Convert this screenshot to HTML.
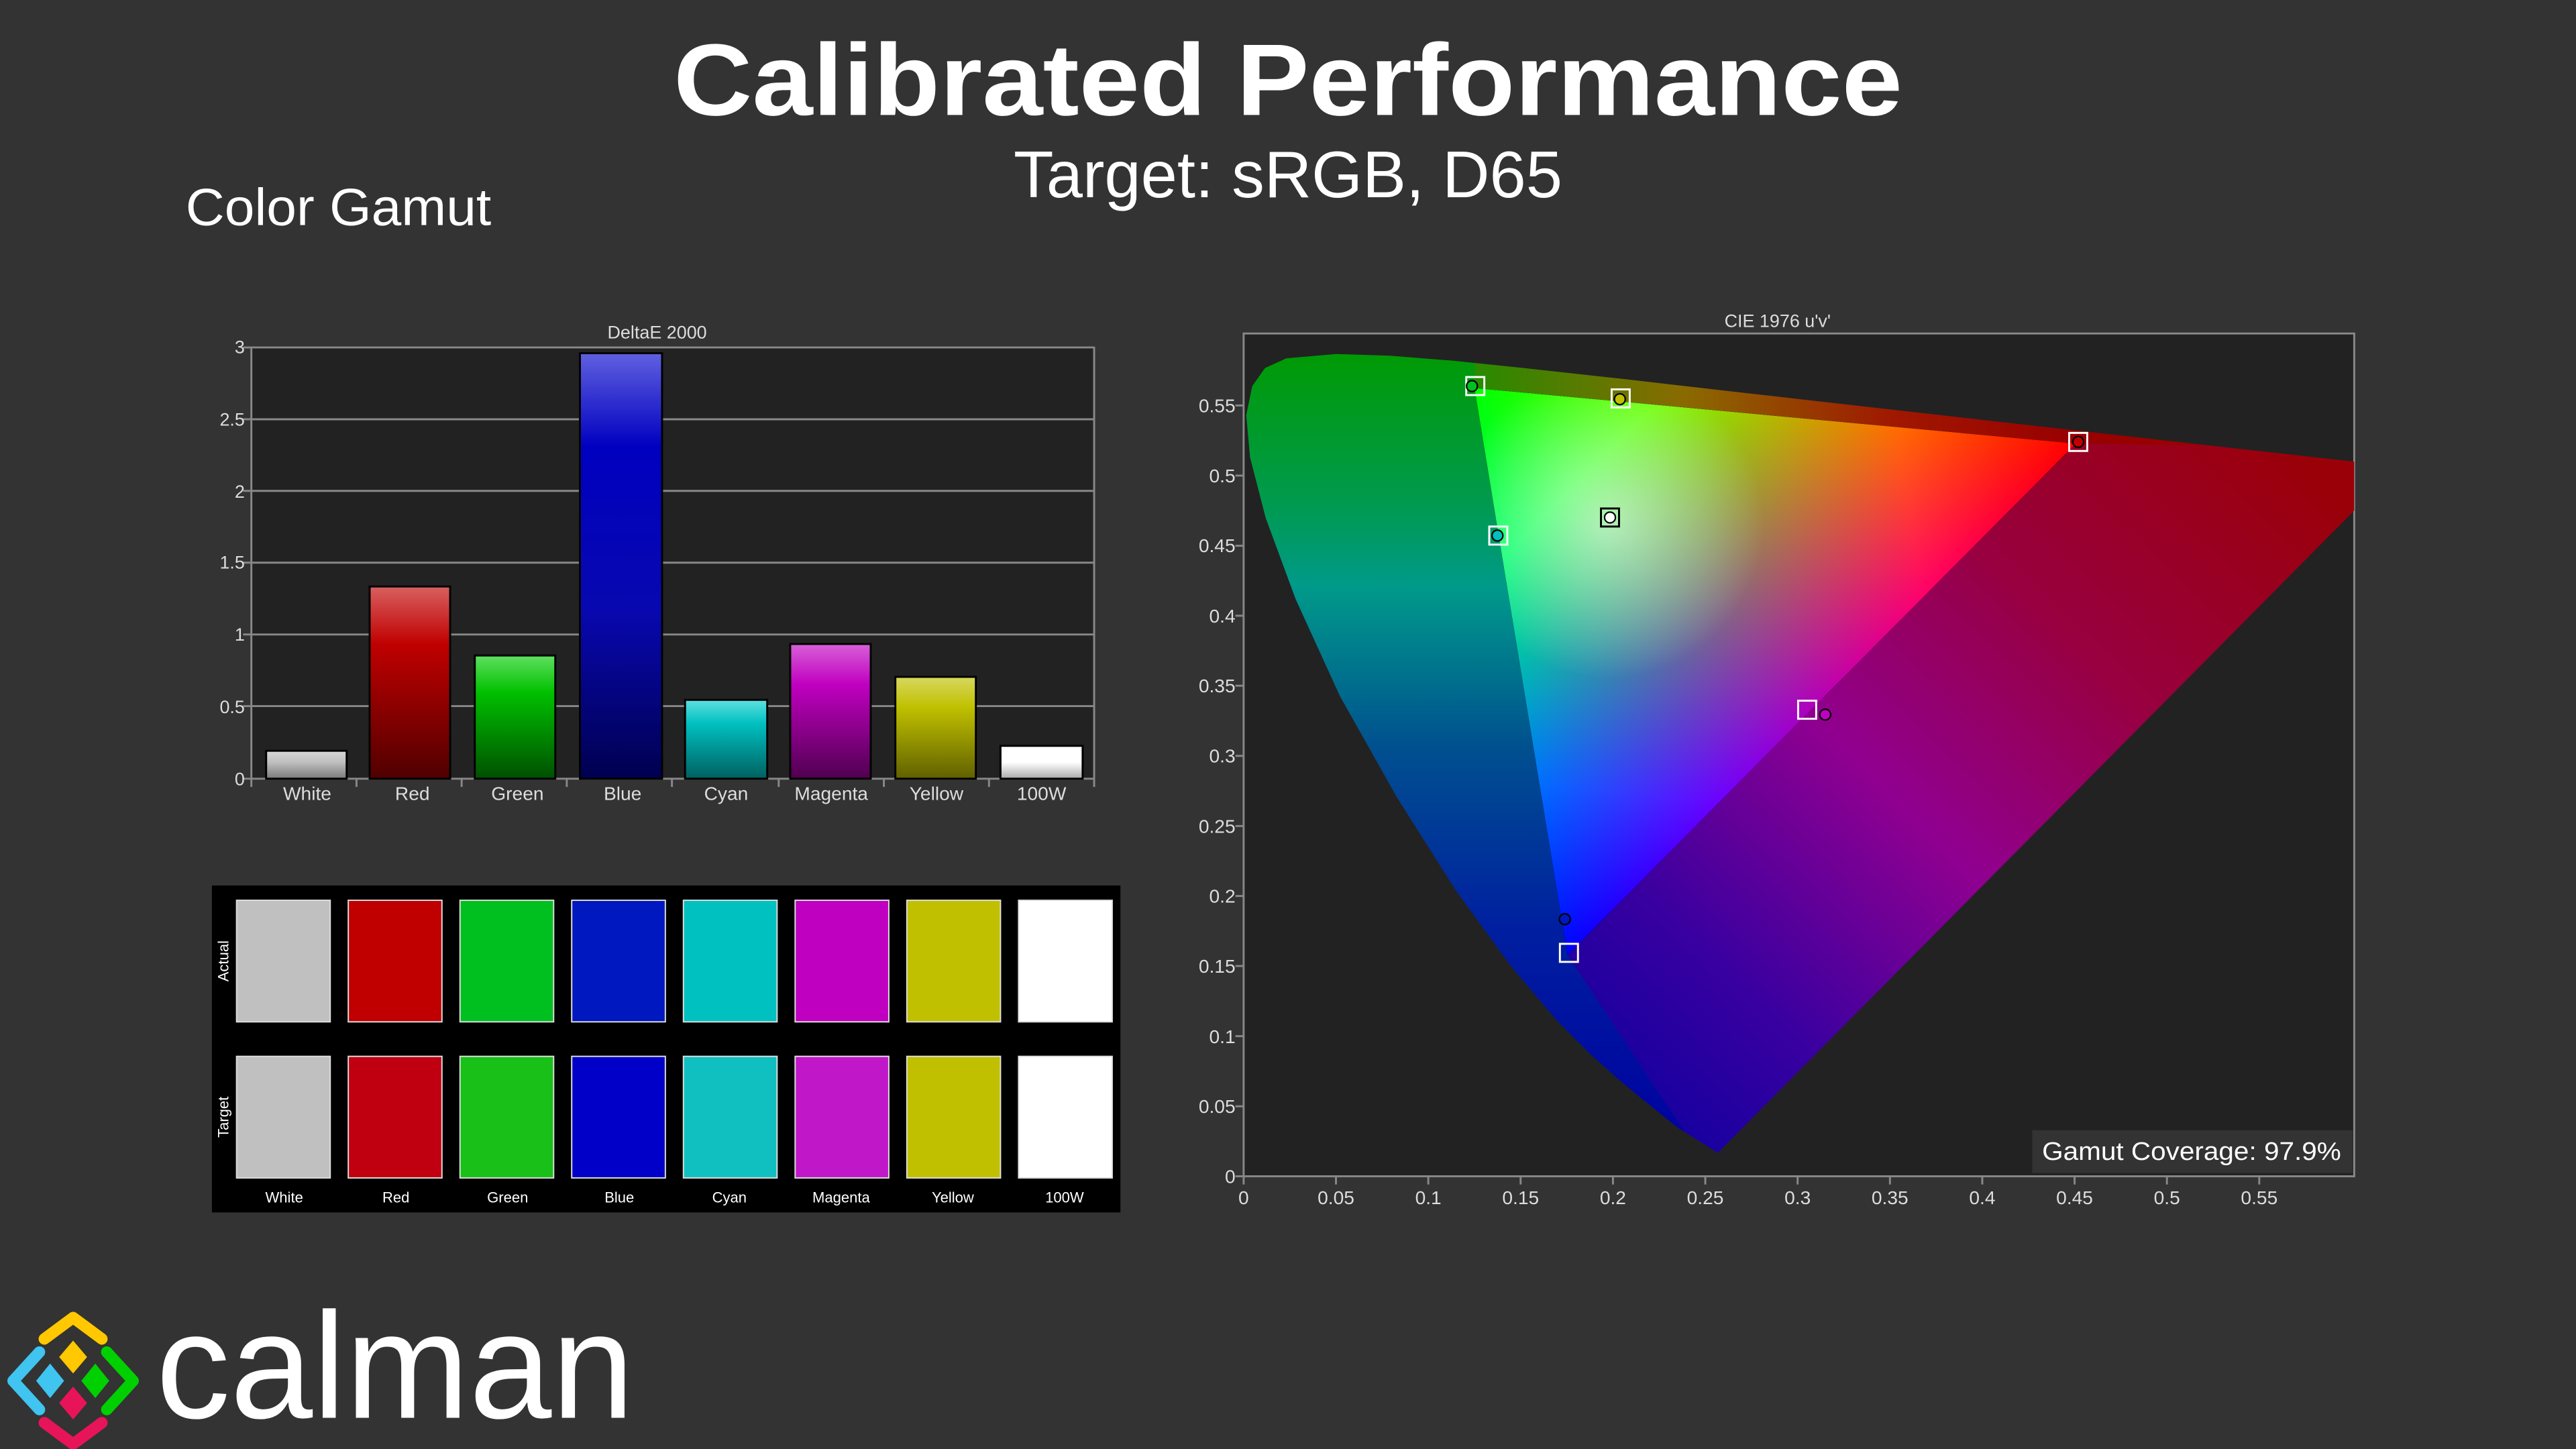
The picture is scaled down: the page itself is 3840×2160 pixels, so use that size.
<!DOCTYPE html>
<html><head><meta charset="utf-8"><style>
html,body{margin:0;padding:0;background:#333;}
svg{display:block;}
text{font-family:"Liberation Sans","DejaVu Sans",sans-serif;}
</style></head><body>
<svg width="3840" height="2160" viewBox="0 0 1568 882" xmlns="http://www.w3.org/2000/svg">
<defs>
<clipPath id="loc"><path d="M1045.6,701.8 L1020.8,686.1 L999.8,669.1 L985.5,657.3 L968,641.7 L947,620.5 L919,587.2 L885.9,541.6 L850.1,485 L815.6,423.7 L788.7,364.8 L770.4,315.2 L760.9,278.4 L758.6,252.7 L762.2,235.1 L770,224 L783,218.1 L813.3,215.5 L846,216.5 L883.7,219.5 L929.1,224.2 L984.7,230.3 L1051.8,238 L1210.5,256 L1341.8,270.8 L1433,281 L1433,310.8 Z"/></clipPath>
<linearGradient id="gL" x1="0" y1="210" x2="0" y2="700" gradientUnits="userSpaceOnUse">
<stop offset="0" stop-color="#009a00"/><stop offset="0.2" stop-color="#009a50"/><stop offset="0.3" stop-color="#009a8a"/><stop offset="0.5" stop-color="#00508f"/><stop offset="0.72" stop-color="#0020a0"/><stop offset="1" stop-color="#0000a0"/></linearGradient>
<linearGradient id="gT" x1="900" y1="0" x2="1260" y2="0" gradientUnits="userSpaceOnUse">
<stop offset="0" stop-color="#2a8a00"/><stop offset="0.35" stop-color="#8a6a00"/><stop offset="0.7" stop-color="#a01800"/><stop offset="1" stop-color="#990000"/></linearGradient>
<linearGradient id="gR" x1="1400" y1="280" x2="1000" y2="700" gradientUnits="userSpaceOnUse">
<stop offset="0" stop-color="#9a0008"/><stop offset="0.3" stop-color="#980040"/><stop offset="0.55" stop-color="#900090"/><stop offset="0.8" stop-color="#3a00a0"/><stop offset="1" stop-color="#1000a0"/></linearGradient>
<linearGradient id="tr" x1="1263.6" y1="270" x2="912.5" y2="327.6" gradientUnits="userSpaceOnUse"><stop offset="0" stop-color="#ff0000"/><stop offset="0.3" stop-color="#ff0000"/><stop offset="1" stop-color="#000"/></linearGradient>
<linearGradient id="tg" x1="897.5" y1="236.2" x2="1098.5" y2="436" gradientUnits="userSpaceOnUse"><stop offset="0" stop-color="#00ff00"/><stop offset="0.3" stop-color="#00ff00"/><stop offset="1" stop-color="#000"/></linearGradient>
<linearGradient id="tb" x1="954.1" y1="581.3" x2="985.2" y2="244.3" gradientUnits="userSpaceOnUse"><stop offset="0" stop-color="#0000ff"/><stop offset="0.3" stop-color="#0000ff"/><stop offset="1" stop-color="#000"/></linearGradient>
<radialGradient id="tw" cx="979" cy="318" r="95" gradientUnits="userSpaceOnUse"><stop offset="0" stop-color="#fff" stop-opacity="0.6"/><stop offset="1" stop-color="#fff" stop-opacity="0"/></radialGradient>
<linearGradient id="bW" x1="0" y1="0" x2="0" y2="1"><stop offset="0" stop-color="#d8d8d8"/><stop offset="0.4" stop-color="#c0c0c0"/><stop offset="1" stop-color="#7a7a7a"/></linearGradient>
<linearGradient id="bR" x1="0" y1="0" x2="0" y2="1"><stop offset="0" stop-color="#d86060"/><stop offset="0.3" stop-color="#c00000"/><stop offset="1" stop-color="#500000"/></linearGradient>
<linearGradient id="bG" x1="0" y1="0" x2="0" y2="1"><stop offset="0" stop-color="#60e060"/><stop offset="0.3" stop-color="#00c000"/><stop offset="1" stop-color="#005000"/></linearGradient>
<linearGradient id="bB" x1="0" y1="0" x2="0" y2="1"><stop offset="0" stop-color="#6060e0"/><stop offset="0.22" stop-color="#0000c0"/><stop offset="0.6" stop-color="#0808b0"/><stop offset="1" stop-color="#000050"/></linearGradient>
<linearGradient id="bC" x1="0" y1="0" x2="0" y2="1"><stop offset="0" stop-color="#60e0e0"/><stop offset="0.3" stop-color="#00c0c0"/><stop offset="1" stop-color="#006060"/></linearGradient>
<linearGradient id="bM" x1="0" y1="0" x2="0" y2="1"><stop offset="0" stop-color="#d860d8"/><stop offset="0.3" stop-color="#c000c0"/><stop offset="1" stop-color="#500050"/></linearGradient>
<linearGradient id="bY" x1="0" y1="0" x2="0" y2="1"><stop offset="0" stop-color="#d8d860"/><stop offset="0.3" stop-color="#c0c000"/><stop offset="1" stop-color="#606000"/></linearGradient>
<linearGradient id="b1" x1="0" y1="0" x2="0" y2="1"><stop offset="0" stop-color="#fff"/><stop offset="0.5" stop-color="#fff"/><stop offset="1" stop-color="#a8a8a8"/></linearGradient>
</defs>
<rect width="1568" height="882" fill="#333"/>
<text x="784" y="70" font-size="62" font-weight="bold" fill="#fff" text-anchor="middle" textLength="748" lengthAdjust="spacingAndGlyphs">Calibrated Performance</text>
<text x="784" y="120" font-size="40" fill="#fff" text-anchor="middle" textLength="334" lengthAdjust="spacingAndGlyphs">Target: sRGB, D65</text>
<text x="113" y="137" font-size="32" fill="#fff" textLength="186" lengthAdjust="spacingAndGlyphs">Color Gamut</text>

<!-- Bar chart -->
<text x="400" y="206" font-size="11" fill="#ddd" text-anchor="middle">DeltaE 2000</text>
<rect x="153" y="211" width="513" height="263" fill="#222"/>
<g stroke="#888" stroke-width="1.2">
<line x1="153" y1="211.5" x2="666" y2="211.5"/><line x1="153" y1="255.2" x2="666" y2="255.2"/><line x1="153" y1="298.8" x2="666" y2="298.8"/><line x1="153" y1="342.5" x2="666" y2="342.5"/><line x1="153" y1="386.2" x2="666" y2="386.2"/><line x1="153" y1="429.8" x2="666" y2="429.8"/>
<line x1="153" y1="211" x2="153" y2="474"/><line x1="666" y1="211" x2="666" y2="474"/><line x1="153" y1="474" x2="666" y2="474"/>
<line x1="148" y1="211.5" x2="153" y2="211.5"/><line x1="148" y1="255.2" x2="153" y2="255.2"/><line x1="148" y1="298.8" x2="153" y2="298.8"/><line x1="148" y1="342.5" x2="153" y2="342.5"/><line x1="148" y1="386.2" x2="153" y2="386.2"/><line x1="148" y1="429.8" x2="153" y2="429.8"/><line x1="148" y1="474" x2="153" y2="474"/>
<line x1="217" y1="474" x2="217" y2="479"/><line x1="281" y1="474" x2="281" y2="479"/><line x1="345" y1="474" x2="345" y2="479"/><line x1="409" y1="474" x2="409" y2="479"/><line x1="474" y1="474" x2="474" y2="479"/><line x1="538" y1="474" x2="538" y2="479"/><line x1="602" y1="474" x2="602" y2="479"/><line x1="153" y1="474" x2="153" y2="479"/><line x1="666" y1="474" x2="666" y2="479"/>
</g>
<g font-size="11" fill="#ddd" text-anchor="end">
<text x="149" y="215">3</text><text x="149" y="259">2.5</text><text x="149" y="303">2</text><text x="149" y="346">1.5</text><text x="149" y="390">1</text><text x="149" y="434">0.5</text><text x="149" y="478">0</text>
</g>
<g stroke="#000" stroke-width="1.2">
<rect x="162" y="457" width="49" height="17" fill="url(#bW)"/>
<rect x="225" y="357" width="49" height="117" fill="url(#bR)"/>
<rect x="289" y="399" width="49" height="75" fill="url(#bG)"/>
<rect x="353" y="215" width="50" height="259" fill="url(#bB)"/>
<rect x="417" y="426" width="50" height="48" fill="url(#bC)"/>
<rect x="481" y="392" width="49" height="82" fill="url(#bM)"/>
<rect x="545" y="412" width="49" height="62" fill="url(#bY)"/>
<rect x="609" y="454" width="50" height="20" fill="url(#b1)"/>
</g>
<g font-size="11.5" fill="#ddd" text-anchor="middle">
<text x="187" y="487">White</text><text x="251" y="487">Red</text><text x="315" y="487">Green</text><text x="379" y="487">Blue</text><text x="442" y="487">Cyan</text><text x="506" y="487">Magenta</text><text x="570" y="487">Yellow</text><text x="634" y="487">100W</text>
</g>

<!-- Swatches -->
<rect x="129" y="539" width="553" height="199" fill="#000"/>
<g stroke="#ddd" stroke-width="0.8">
<rect x="144" y="548" width="57" height="74" fill="#c0c0c0"/><rect x="212" y="548" width="57" height="74" fill="#c00000"/><rect x="280" y="548" width="57" height="74" fill="#00c020"/><rect x="348" y="548" width="57" height="74" fill="#0018c0"/><rect x="416" y="548" width="57" height="74" fill="#00c0c0"/><rect x="484" y="548" width="57" height="74" fill="#c000c0"/><rect x="552" y="548" width="57" height="74" fill="#c0c000"/><rect x="620" y="548" width="57" height="74" fill="#ffffff"/>
<rect x="144" y="643" width="57" height="74" fill="#c0c0c0"/><rect x="212" y="643" width="57" height="74" fill="#c00010"/><rect x="280" y="643" width="57" height="74" fill="#18c018"/><rect x="348" y="643" width="57" height="74" fill="#0000c8"/><rect x="416" y="643" width="57" height="74" fill="#10c0c0"/><rect x="484" y="643" width="57" height="74" fill="#c018c8"/><rect x="552" y="643" width="57" height="74" fill="#c0c000"/><rect x="620" y="643" width="57" height="74" fill="#ffffff"/>
</g>
<g font-size="9" fill="#fff" text-anchor="middle">
<text x="173" y="732">White</text><text x="241" y="732">Red</text><text x="309" y="732">Green</text><text x="377" y="732">Blue</text><text x="444" y="732">Cyan</text><text x="512" y="732">Magenta</text><text x="580" y="732">Yellow</text><text x="648" y="732">100W</text>
<text transform="translate(139,585) rotate(-90)">Actual</text>
<text transform="translate(139,680) rotate(-90)">Target</text>
</g>

<!-- CIE -->
<text x="1082" y="199" font-size="11" fill="#ddd" text-anchor="middle">CIE 1976 u'v'</text>
<rect x="757" y="203" width="676" height="513" fill="#222" stroke="#888" stroke-width="1.2"/>
<g clip-path="url(#loc)">
<polygon points="700,100 897.5,100 897.5,236.2 954.1,581.3 1046,720 700,720" fill="url(#gL)"/>
<polygon points="897.5,100 1440,100 1440,272 1263.6,270 897.5,236.2" fill="url(#gT)"/>
<polygon points="1263.6,270 1440,272 1440,720 1046,720 954.1,581.3" fill="url(#gR)"/>
<polygon points="1263.6,270 897.5,236.2 954.1,581.3" fill="#000"/>
<g style="isolation:isolate">
<polygon points="1263.6,270 897.5,236.2 954.1,581.3" fill="url(#tr)" style="mix-blend-mode:plus-lighter"/>
<polygon points="1263.6,270 897.5,236.2 954.1,581.3" fill="url(#tg)" style="mix-blend-mode:plus-lighter"/>
<polygon points="1263.6,270 897.5,236.2 954.1,581.3" fill="url(#tb)" style="mix-blend-mode:plus-lighter"/>
</g>
<polygon points="1263.6,270 897.5,236.2 954.1,581.3" fill="url(#tw)"/>
</g>
<g stroke="#888" stroke-width="1.2">
<line x1="752" y1="716" x2="757" y2="716"/><line x1="752" y1="673.4" x2="757" y2="673.4"/><line x1="752" y1="630.7" x2="757" y2="630.7"/><line x1="752" y1="588" x2="757" y2="588"/><line x1="752" y1="545.4" x2="757" y2="545.4"/><line x1="752" y1="502.8" x2="757" y2="502.8"/><line x1="752" y1="460.1" x2="757" y2="460.1"/><line x1="752" y1="417.4" x2="757" y2="417.4"/><line x1="752" y1="374.8" x2="757" y2="374.8"/><line x1="752" y1="332.2" x2="757" y2="332.2"/><line x1="752" y1="289.5" x2="757" y2="289.5"/><line x1="752" y1="246.8" x2="757" y2="246.8"/>
<line x1="757" y1="716" x2="757" y2="721"/><line x1="813.2" y1="716" x2="813.2" y2="721"/><line x1="869.4" y1="716" x2="869.4" y2="721"/><line x1="925.6" y1="716" x2="925.6" y2="721"/><line x1="981.8" y1="716" x2="981.8" y2="721"/><line x1="1038" y1="716" x2="1038" y2="721"/><line x1="1094.2" y1="716" x2="1094.2" y2="721"/><line x1="1150.4" y1="716" x2="1150.4" y2="721"/><line x1="1206.6" y1="716" x2="1206.6" y2="721"/><line x1="1262.8" y1="716" x2="1262.8" y2="721"/><line x1="1319" y1="716" x2="1319" y2="721"/><line x1="1375.2" y1="716" x2="1375.2" y2="721"/>
</g>
<g font-size="11.5" fill="#ddd" text-anchor="end">
<text x="752" y="720">0</text><text x="752" y="677.5">0.05</text><text x="752" y="635">0.1</text><text x="752" y="592">0.15</text><text x="752" y="549.5">0.2</text><text x="752" y="507">0.25</text><text x="752" y="464">0.3</text><text x="752" y="421.5">0.35</text><text x="752" y="379">0.4</text><text x="752" y="336">0.45</text><text x="752" y="293.5">0.5</text><text x="752" y="251">0.55</text>
</g>
<g font-size="11.5" fill="#ddd" text-anchor="middle">
<text x="757" y="733">0</text><text x="813.2" y="733">0.05</text><text x="869.4" y="733">0.1</text><text x="925.6" y="733">0.15</text><text x="981.8" y="733">0.2</text><text x="1038" y="733">0.25</text><text x="1094.2" y="733">0.3</text><text x="1150.4" y="733">0.35</text><text x="1206.6" y="733">0.4</text><text x="1262.8" y="733">0.45</text><text x="1319" y="733">0.5</text><text x="1375.2" y="733">0.55</text>
</g>
<!-- markers -->
<g fill="none" stroke-width="1.2">
<rect x="892.5" y="229.5" width="11" height="11" stroke="#fff"/>
<rect x="981" y="237" width="11" height="11" stroke="#fff"/>
<rect x="1259.5" y="263.5" width="11" height="11" stroke="#fff"/>
<rect x="906.5" y="320.5" width="11" height="11" stroke="#fff"/>
<rect x="974.5" y="309.5" width="11" height="11" stroke="#000"/>
<rect x="1094.5" y="426.5" width="11" height="11" stroke="#fff"/>
<rect x="949.5" y="574.5" width="11" height="11" stroke="#fff"/>
</g>
<g stroke="#000" stroke-width="0.9">
<circle cx="896" cy="235" r="3.3" fill="#00c020"/>
<circle cx="986" cy="243" r="3.3" fill="#c0c000"/>
<circle cx="1265" cy="269" r="3.3" fill="#c00000"/>
<circle cx="911.5" cy="326" r="3.3" fill="#00c0c0"/>
<circle cx="980" cy="315" r="3.3" fill="#fff"/>
<circle cx="1111" cy="435" r="3.3" fill="#c000c0"/>
<circle cx="952.5" cy="559.5" r="3.3" fill="#0018c0"/>
</g>
<rect x="1237" y="688" width="195" height="26" fill="#333"/>
<text x="1243" y="706" font-size="15.5" fill="#fff" textLength="182" lengthAdjust="spacingAndGlyphs">Gamut Coverage:  97.9%</text>

<!-- logo -->
<g stroke-linecap="round" stroke-linejoin="round" fill="none" stroke-width="7">
<polyline points="27,815 44.5,802 62,815" stroke="#ffc800"/>
<polyline points="24,823 8,840.5 24,858" stroke="#40c4f0"/>
<polyline points="65,823 81,840.5 65,858" stroke="#00d000"/>
<polyline points="27,866 44.5,879 62,866" stroke="#e8145a"/>
</g>
<g>
<polygon points="44.5,816 53,826 44.5,836 36,826" fill="#ffc800"/>
<polygon points="30.5,830 39,840.5 30.5,851 22,840.5" fill="#40c4f0"/>
<polygon points="58,830 66.5,840.5 58,851 49.5,840.5" fill="#00d000"/>
<polygon points="44.5,844 53,854 44.5,864 36,854" fill="#e8145a"/>
</g>
<text x="95" y="863" font-size="92" fill="#fff" textLength="291" lengthAdjust="spacingAndGlyphs" font-weight="normal">calman</text>
</svg>
</body></html>
